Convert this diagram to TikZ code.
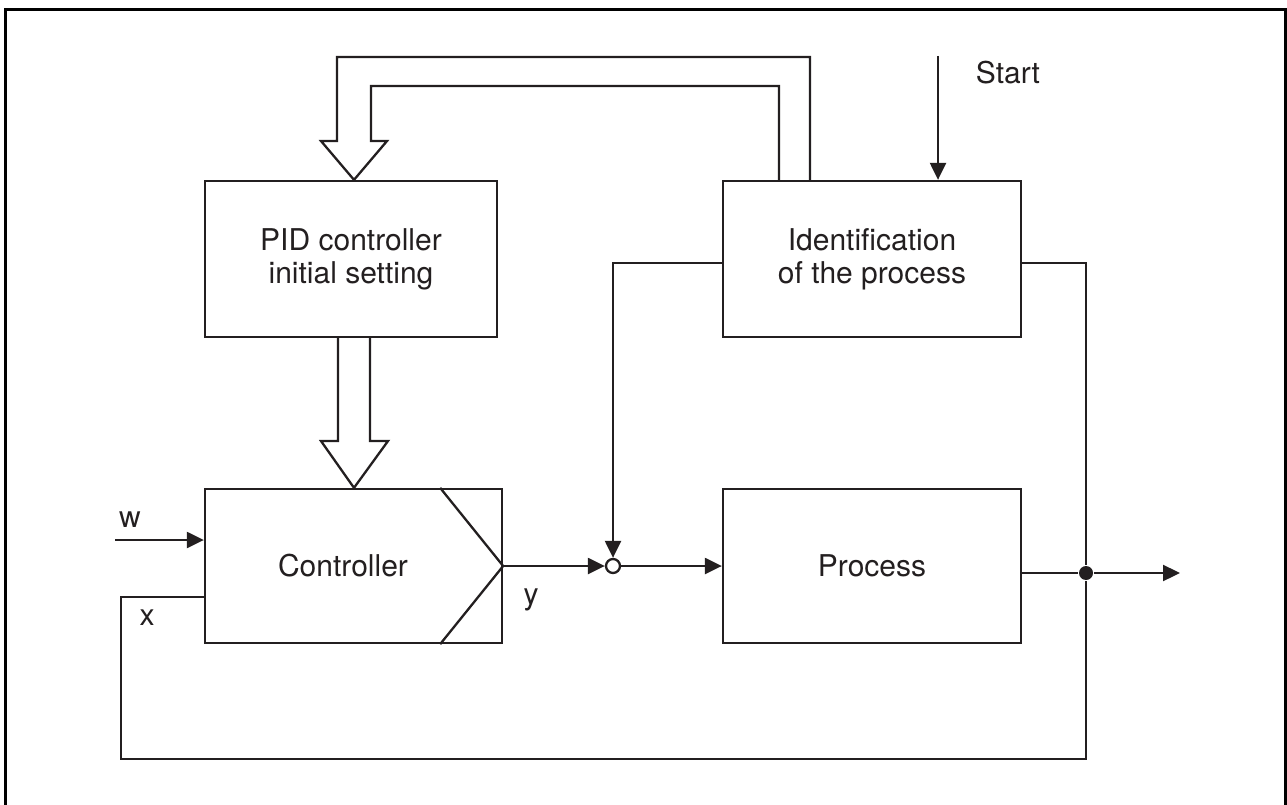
\documentclass[tikz,border=0pt]{standalone}
\usepackage{fontspec}
\setmainfont{TeX Gyre Heros}
\usetikzlibrary{arrows.meta,calc}
\definecolor{ink}{HTML}{231F20}
\begin{document}
\begin{tikzpicture}[x=1pt,y=-1pt,
  line width=2.3pt, draw=ink,
  every node/.style={font=\fontsize{30}{33}\selectfont, text=ink},
  blockbox/.style={draw=ink, line width=2.3pt, rectangle, inner sep=0pt, align=center, minimum height=156pt},
  sig/.style={draw=ink, line width=2.3pt, -{Triangle[length=17pt,width=16pt]}},
  wire/.style={draw=ink, line width=2.3pt},
  fat/.style={draw=ink, line width=2.3pt, line join=miter},
  lbl/.style={inner sep=0pt}
]
\useasboundingbox (0,0) rectangle (1287,805);
% frame
\draw[line width=3pt, black] (5.5,805) -- (5.5,9.5) -- (1285.5,9.5) -- (1285.5,805);

% blocks
\node[blockbox, minimum width=292pt] (pid) at (351,259) {PID controller\\initial setting};
\node[blockbox, minimum width=298pt] (ident) at (872,259) {Identification\\of the process};
\node[blockbox, minimum width=297pt, minimum height=154pt] (ctrl) at (353.5,566) {};
\node[lbl] (ctrltext) at (343,566) {Controller};
\node[blockbox, minimum width=298pt, minimum height=154pt] (proc) at (872,566) {Process};

% chevron inside controller
\draw[wire] ([xshift=-63pt]ctrl.north east) -- (ctrl.east) -- ([xshift=-63pt]ctrl.south east);

% top fat arrow from identification to PID
\coordinate (ti) at (779,86);
\coordinate (to) at (810,57);
\draw[fat] (ident.north -| ti) -- (ti) -- (371,86) -- (371,141) -- (387,141)
  -- (pid.north -| 354,0) -- (321,141) -- (337,141) -- (337,57) -- (to) -- (ident.north -| to);

% fat arrow from PID to controller
\draw[fat] (pid.south -| 338,0) -- (338,441) -- (321,441) -- (ctrl.north -| 354,0)
  -- (388,441) -- (370,441) -- (pid.south -| 370,0);

% Start
\coordinate (st) at (938,56);
\node[lbl] (start) at (1008,73) {Start};
\draw[sig] (st) -- (ident.north -| st);

% junction
\node[circle, draw=ink, fill=white, line width=2.3pt, minimum size=14pt, inner sep=0pt] (sum) at (613,566) {};
\draw[sig] (ctrl.east) -- (sum.west);
\draw[sig] (sum.east) -- (proc.west |- sum.east);
\draw[sig] (ident.west |- 0,263) -- (613,263) -- (sum.north);

% output and feedback
\node[circle, fill=ink, minimum size=14pt, inner sep=0pt] (dot) at (1086,573) {};
\coordinate (out) at (1180,573);
\draw[wire] (proc.east |- dot) -- (dot);
\draw[sig] (dot) -- (out);
\draw[wire] (ident.east |- 0,263) -- (1086,263) -- (dot);
\draw[wire] (dot) -- (1086,759) -- (121,759) -- (121,597) -- (ctrl.west |- 0,597);

% w input
\coordinate (win) at (115,540);
\draw[sig] (win) -- (ctrl.west |- win);
\node[lbl] (wl) at (130,520) {w};
\node[lbl] (xl) at (147,618) {x};
\node[lbl] (yl) at (531,600) {y};
\end{tikzpicture}
\end{document}
